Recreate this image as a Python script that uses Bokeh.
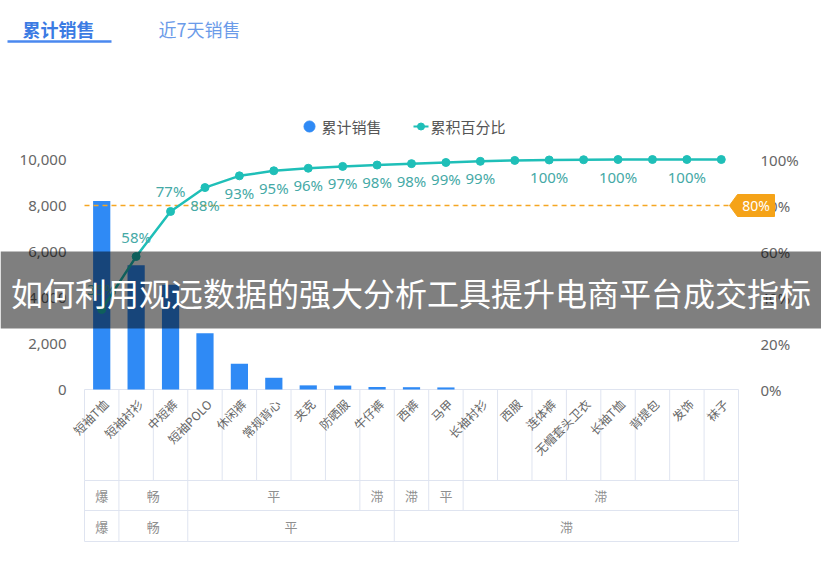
from math import pi
from bokeh.plotting import figure
from bokeh.models import Range1d
from bokeh.embed import file_html
from bokeh.resources import INLINE
from bokeh.core.properties import value

# ---------------- data ----------------
categories = ["短袖T恤", "短袖衬衫", "中短裤", "短袖POLO", "休闲裤", "常规背心", "夹克", "防晒服",
              "牛仔裤", "西裤", "马甲", "长袖衬衫", "西服", "连体裤", "无帽套头卫衣", "长袖T恤",
              "背提包", "发饰", "袜子"]
sales = [8200, 5400, 4550, 2450, 1120, 510, 180, 170, 110, 100, 90, 0, 0, 0, 0, 0, 0, 0, 0]
cum_pct = [34.8, 57.8, 77.4, 87.8, 92.9, 95.1, 96.2, 97.0, 97.6, 98.2, 98.7, 99.2, 99.6,
           99.8, 99.9, 100, 100, 100, 100]
sales_ticks = [0, 2000, 4000, 6000, 8000, 10000]
pct_ticks = [0, 20, 40, 60, 80, 100]
mark_pct = 80
row1_groups = ["爆", "畅", "平", "滞", "滞", "平", "滞"]
row1_spans = [1, 2, 5, 1, 1, 1, 8]
row2_groups = ["爆", "畅", "平", "滞"]
row2_spans = [1, 2, 6, 10]
tabs = ["累计销售", "近7天销售"]
legend_names = ["累计销售", "累积百分比"]
banner_text = "如何利用观远数据的强大分析工具提升电商平台成交指标"

# ---------------- layout ----------------
OFF = 0
W, H = 821, 578
X0_PX, X1_PX = 84, 738          # category band on the page
Y0_PX, YT_PX = 389, 159         # value 0 and value 10000 / 100%
N = len(categories)
UX = (X1_PX - X0_PX) / N
UY = (Y0_PX - YT_PX) / 10000.0
PCT_PER_PX = 1.0 / (UY * 100)


def X(px):
    return (px - X0_PX) / UX


def Y(py):
    return (Y0_PX - py) / UY


def P(py):
    return Y(py) / 100.0


FONT = value("Noto Sans CJK SC")
BLUE = "#2f8af5"
TEAL = "#1fbfb8"
TEAL_TXT = "#45a9a6"
GRID = "#dfe4f0"
AX_TXT = "#666666"

p = figure(width=W, height=H, title=None,
           x_range=Range1d(X(OFF), X(OFF + W)),
           y_range=Range1d(Y(OFF + H), Y(OFF)),
           x_axis_location=None, y_axis_location=None,
           toolbar_location=None, output_backend="svg",
           min_border=0, outline_line_color=None)
p.extra_y_ranges = {"pct": Range1d(P(OFF + H), P(OFF))}
p.grid.visible = False
p.background_fill_color = "white"
p.border_fill_color = "white"

xc = [i + 0.5 for i in range(N)]

# ---------------- table / label area grid ----------------
y_top, y_r1, y_r2, y_bot = Y(389), Y(480), Y(510), Y(541)
p.segment(x0=list(range(N + 1)), y0=[y_top] * (N + 1), x1=list(range(N + 1)), y1=[y_r1] * (N + 1),
          line_color=GRID, line_width=1)
p.segment(x0=[0, 0, 0, 0], y0=[y_top, y_r1, y_r2, y_bot], x1=[N, N, N, N], y1=[y_top, y_r1, y_r2, y_bot],
          line_color=GRID, line_width=1)
p.segment(x0=[0, N], y0=[y_r1, y_r1], x1=[0, N], y1=[y_bot, y_bot], line_color=GRID, line_width=1)


def draw_row(groups, spans, ytop, ybot):
    edges = [0]
    for s in spans:
        edges.append(edges[-1] + s)
    inner = edges[1:-1]
    p.segment(x0=inner, y0=[ytop] * len(inner), x1=inner, y1=[ybot] * len(inner),
              line_color=GRID, line_width=1)
    centers = [(edges[i] + edges[i + 1]) / 2 for i in range(len(spans))]
    p.text(x=centers, y=[(ytop + ybot) / 2] * len(centers), text=groups,
           text_font=FONT, text_font_size="13px", text_color="#8f8f8f",
           text_align="center", text_baseline="middle")


draw_row(row1_groups, row1_spans, y_r1, y_r2)
draw_row(row2_groups, row2_spans, y_r2, y_bot)

# category labels (rotated)
p.text(x=[c + 4 / UX for c in xc], y=[Y(401)] * N, text=categories, angle=pi / 4,
       text_font=FONT, text_font_size="12px", text_color=AX_TXT,
       text_align="right", text_baseline="middle")

# ---------------- bars ----------------
p.vbar(x=xc, top=sales, bottom=0, width=0.5, fill_color=BLUE, line_color=None)

# ---------------- 80% mark line ----------------
p.segment(x0=[0], y0=[mark_pct], x1=[X(729)], y1=[mark_pct], y_range_name="pct",
          line_color="#f5a623", line_width=1.5, line_dash="5 4")

# ---------------- cumulative line ----------------
p.line(x=xc, y=cum_pct, y_range_name="pct", line_color=TEAL, line_width=2.5)
p.scatter(x=xc, y=cum_pct, y_range_name="pct", marker="circle", size=8,
          fill_color=TEAL, line_color=TEAL)

# labels with overlap hiding
LBL_PX = 15
lbl_x, lbl_y, lbl_t = [], [], []
last_x, last_w = None, 0
for i, v in enumerate(cum_pct):
    t = f"{round(v)}%"
    w = LBL_PX * (0.6 * (len(t) - 1) + 0.9) + 2
    px = X0_PX + xc[i] * UX
    if last_x is not None and (px - last_x) < (w + last_w) / 2:
        continue
    last_x, last_w = px, w
    lbl_x.append(xc[i])
    lbl_t.append(t)
    if v < mark_pct:
        lbl_y.append(v + 20 * PCT_PER_PX)
    else:
        lbl_y.append(v - 17 * PCT_PER_PX)
p.text(x=lbl_x, y=lbl_y, text=lbl_t, y_range_name="pct",
       text_font=value("Noto Sans"), text_font_size=f"{LBL_PX}px", text_color=TEAL_TXT,
       text_align="center", text_baseline="middle")

# ---------------- axis tick labels ----------------
p.text(x=[X(66)] * len(sales_ticks), y=sales_ticks, text=[f"{t:,}" for t in sales_ticks],
       text_font=value("Noto Sans"), text_font_size="15px", text_color=AX_TXT,
       text_align="right", text_baseline="middle")
p.text(x=[X(760)] * len(pct_ticks), y=pct_ticks, text=[f"{t}%" for t in pct_ticks],
       y_range_name="pct", text_font=value("Noto Sans"), text_font_size="15px",
       text_color=AX_TXT, text_align="left", text_baseline="middle")

# 80% tag
tag_top, tag_bot = mark_pct + 11 * PCT_PER_PX, mark_pct - 11 * PCT_PER_PX
p.patch(x=[X(729), X(737), X(774), X(774), X(737)],
        y=[mark_pct, tag_top, tag_top, tag_bot, tag_bot], y_range_name="pct",
        fill_color="#f5a318", line_color="#f5a318")
p.text(x=[X(755.5)], y=[mark_pct], text=[f"{mark_pct}%"], y_range_name="pct",
       text_font=value("Noto Sans"), text_font_size="14px", text_color="white",
       text_align="center", text_baseline="middle")

# ---------------- legend ----------------
p.scatter(x=[X(309)], y=[Y(126)], marker="circle", size=11, fill_color=BLUE, line_color=BLUE)
p.text(x=[X(321)], y=[Y(126)], text=[legend_names[0]], text_font=FONT, text_font_size="15px",
       text_color="#555555", text_align="left", text_baseline="middle")
p.segment(x0=[X(413)], y0=[Y(126)], x1=[X(428)], y1=[Y(126)], line_color=TEAL, line_width=2)
p.scatter(x=[X(420.5)], y=[Y(126)], marker="circle", size=7, fill_color=TEAL, line_color=TEAL)
p.text(x=[X(430)], y=[Y(126)], text=[legend_names[1]], text_font=FONT, text_font_size="15px",
       text_color="#555555", text_align="left", text_baseline="middle")

# ---------------- tabs ----------------
p.text(x=[X(22)], y=[Y(28)], text=[tabs[0]], text_font=FONT, text_font_size="18px",
       text_font_style="bold", text_color="#3b7be3", text_align="left", text_baseline="middle")
p.text(x=[X(158)], y=[Y(28)], text=[tabs[1]], text_font=FONT, text_font_size="18px",
       text_color="#6b9be9", text_align="left", text_baseline="middle")
p.segment(x0=[X(7)], y0=[Y(41)], x1=[X(111)], y1=[Y(41)], line_color="#4a88ef", line_width=2.5)

# ---------------- banner overlay ----------------
p.quad(left=[X(OFF)], right=[X(OFF + W)], top=[Y(251)], bottom=[Y(328)],
       fill_color="black", fill_alpha=0.5, line_color=None)
p.text(x=[X(410.5)], y=[Y(291)], text=[banner_text], text_font=FONT, text_font_size="32px",
       text_color="white", text_align="center", text_baseline="middle")

open("out.html", "w").write(file_html(p, INLINE))
